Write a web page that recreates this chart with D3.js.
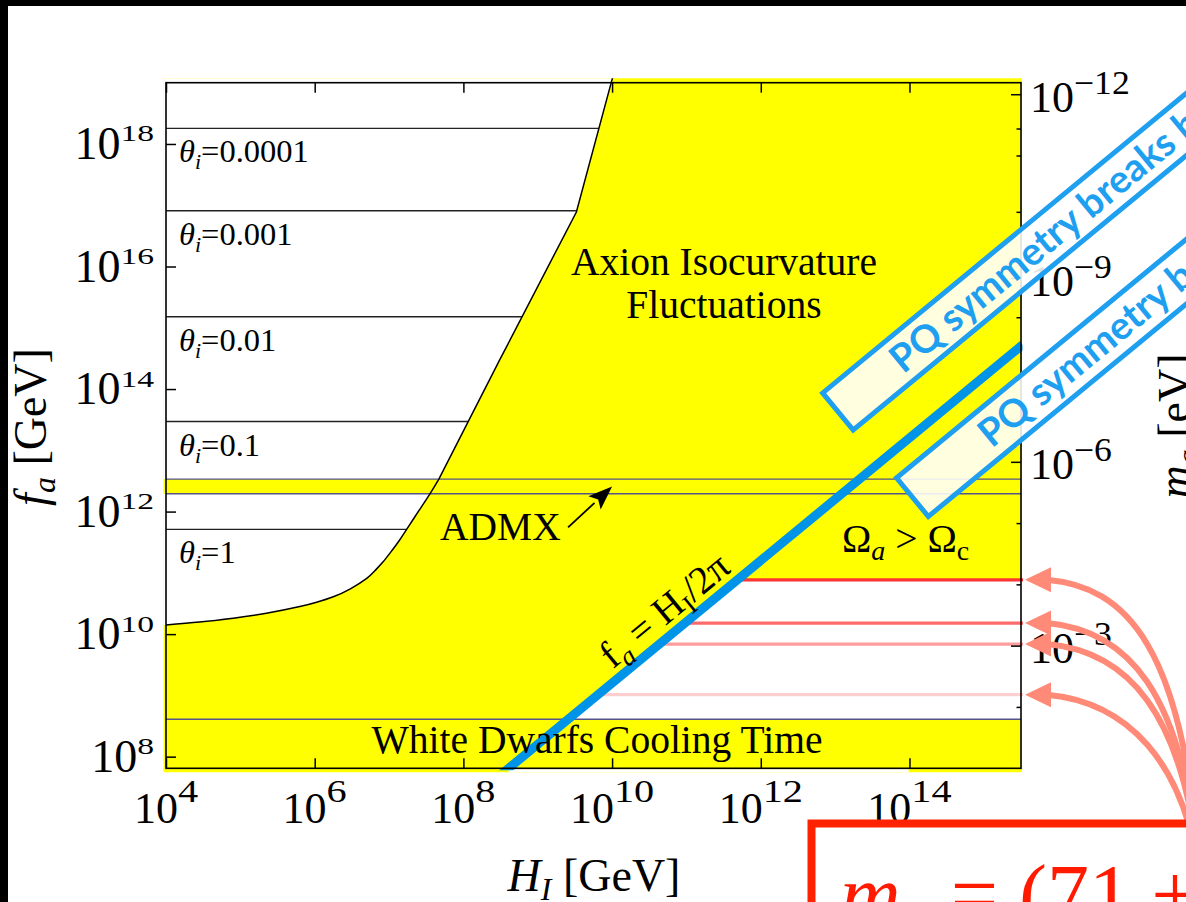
<!DOCTYPE html>
<html><head><meta charset="utf-8">
<script src="https://cdn.jsdelivr.net/npm/d3@7/dist/d3.min.js"></script>
<style>html,body{margin:0;padding:0;background:#fff;overflow:hidden}svg{display:block}text{font-family:"Liberation Serif","Times New Roman",serif}</style>
</head><body>
<svg id="chart" width="1186" height="902"></svg>
<script>
// ---------------- data ----------------
const xTickExps = [4, 6, 8, 10, 12, 14];          // H_I [GeV] ticks (powers of ten)
const yTickExps = [8, 10, 12, 14, 16, 18];        // f_a [GeV] ticks
const mMajorExps = [-12, -9, -6, -3];             // m_a [eV] labelled ticks
const mMinorExps = [-11.44, -11, -10.08, -8.36, -5, -4, -2];
// isocurvature boundary (log10 H_I, log10 f_a): curved lower part, then straight segments
const isoLowLogH = [4.0, 4.45, 4.905, 5.35, 5.80, 6.025, 6.25, 6.48, 6.70, 6.81, 6.92, 7.03, 7.145, 7.35, 7.55, 7.67];
const isoLowLogF = [10.15, 10.197, 10.26, 10.34, 10.45, 10.52, 10.61, 10.74, 10.91, 11.035, 11.18, 11.35, 11.54, 11.92, 12.29, 12.53];
const isoHighLogH = [8.49, 9.52, 9.99, 10.06];
const isoHighLogF = [14.48, 16.89, 19.01, 19.3];
const thetaValues = ["1", "0.1", "0.01", "0.001", "0.0001"];
const thetaLineLogF = [11.71, 13.47, 15.18, 16.91, 18.256];
const admxLogF = [12.29, 12.53];
const wdLogF = 8.61;
const omegaLogF = 10.887;
const redLineLogF = [10.887, 10.181, 9.838, 9.011];
const twoPi = 2 * Math.PI;                        // f_a = H_I / 2π
const maConst = Math.pow(10, 6.812);               // m_a[eV] = maConst / f_a[GeV]

// ---------------- styles ----------------
const YEL = "#ffff00", LINEBLUE = "#0094e8", BOXBLUE = "#1e9ff0", SALMON = "#ff8a78";
const BANDLINE = "#55558a";
const redColors = ["#ff3434", "#ff6a6a", "#ff9c9c", "#ffcfcf"];

// ---------------- scales ----------------
const X0 = 166, X1 = 1021, Y0 = 82.7, Y1 = 768.3;
const x = d3.scaleLog().domain([1e4, Math.pow(10, 15.5)]).range([X0, X1]);
const y = d3.scaleLog().domain([Math.pow(10, 7.81), 1e19]).range([Y1, Y0]);
const yR = d3.scaleLog().domain([maConst / Math.pow(10, 7.81), maConst / 1e19]).range([Y1, Y0]);
const P = (lh, lf) => [x(Math.pow(10, lh)), y(Math.pow(10, lf))];

const svg = d3.select("#chart");
const defs = svg.append("defs");
defs.append("clipPath").attr("id", "plotClip").append("rect")
  .attr("x", X0 - 2.5).attr("y", Y0 - 4.5).attr("width", X1 - X0 + 3.5).attr("height", Y1 - Y0 + 8.5);
defs.append("clipPath").attr("id", "blueClip").append("rect")
  .attr("x", X0).attr("y", Y0 - 4.5).attr("width", X1 - X0 + 1.5).attr("height", Y1 - Y0 + 6.5);

// isocurvature curve
const lowPts = isoLowLogH.map((h, i) => P(h, isoLowLogF[i]));
const highPts = isoHighLogH.map((h, i) => P(h, isoHighLogF[i]));
const isoD = d3.line().curve(d3.curveNatural)(lowPts) + highPts.map(p => "L" + p).join("");
const topPt = highPts[highPts.length - 1];
const whiteLeftD = isoD + `L${X0 - 20},${topPt[1]}L${X0 - 20},${lowPts[0][1]}Z`;
defs.append("clipPath").attr("id", "leftClip").append("path").attr("d", whiteLeftD);

const plot = svg.append("g").attr("clip-path", "url(#plotClip)");
plot.append("rect").attr("x", X0 - 3).attr("y", Y0 - 5).attr("width", X1 - X0 + 5).attr("height", Y1 - Y0 + 10).attr("fill", YEL);
plot.append("path").attr("d", whiteLeftD).attr("fill", "#fff");
plot.append("rect").attr("x", X0 - 3).attr("width", X1 - X0 + 5)
  .attr("y", y(Math.pow(10, admxLogF[1]))).attr("height", y(Math.pow(10, admxLogF[0])) - y(Math.pow(10, admxLogF[1])))
  .attr("fill", YEL);
const postPts = [
  P(omegaLogF + Math.log10(twoPi), omegaLogF), [X1 + 4, y(Math.pow(10, omegaLogF))],
  [X1 + 4, y(Math.pow(10, wdLogF))], P(wdLogF + Math.log10(twoPi), wdLogF)];
plot.append("path").attr("d", "M" + postPts.join("L") + "Z").attr("fill", "#fff");
const botLF = Math.log10(y.domain()[0]);
plot.append("rect").attr("x", x(Math.pow(10, botLF) * twoPi)).attr("y", Y1 + 0.8)
  .attr("width", 400).attr("height", 10).attr("fill", "#fff");

const lines = svg.append("g");
lines.append("g").attr("clip-path", "url(#leftClip)").selectAll("line").data(thetaLineLogF).join("line")
  .attr("x1", X0).attr("x2", X1).attr("y1", d => y(Math.pow(10, d))).attr("y2", d => y(Math.pow(10, d)))
  .attr("stroke", "#222").attr("stroke-width", 1.3);
lines.selectAll("line.band").data(admxLogF.concat([wdLogF])).join("line").attr("class", "band")
  .attr("x1", X0).attr("x2", X1).attr("y1", d => y(Math.pow(10, d))).attr("y2", d => y(Math.pow(10, d)))
  .attr("stroke", BANDLINE).attr("stroke-width", 1.4);
lines.selectAll("line.red").data(redLineLogF).join("line").attr("class", "red")
  .attr("x1", d => x(Math.pow(10, d) * twoPi)).attr("x2", X1 + 2)
  .attr("y1", d => y(Math.pow(10, d))).attr("y2", d => y(Math.pow(10, d)))
  .attr("stroke", (d, i) => redColors[i]).attr("stroke-width", 3.3);

svg.append("g").attr("clip-path", "url(#plotClip)").append("path").attr("d", isoD)
  .attr("fill", "none").attr("stroke", "#000").attr("stroke-width", 1.5);

const blueH = [Math.pow(10, botLF - 0.1) * twoPi, x.domain()[1] * 1.05];
svg.append("g").attr("clip-path", "url(#blueClip)").append("line")
  .attr("x1", x(blueH[0])).attr("y1", y(blueH[0] / twoPi)).attr("x2", x(blueH[1])).attr("y2", y(blueH[1] / twoPi))
  .attr("stroke", LINEBLUE).attr("stroke-width", 9);
const ang = Math.atan2(y(1e10) - y(1e9), x(1e10) - x(1e9)) * 180 / Math.PI;

// ---------------- text in plot ----------------
const T = svg.append("g").attr("fill", "#000");
thetaLineLogF.forEach((lf, i) => {
  const t = T.append("text").attr("x", X0 + 13).attr("y", y(Math.pow(10, lf)) + 34).attr("font-size", 32.5);
  t.append("tspan").attr("font-style", "italic").text("θ");
  t.append("tspan").attr("font-style", "italic").attr("font-size", 22).attr("dy", 7).text("i");
  t.append("tspan").attr("dy", -7).text("=" + thetaValues[i]);
});
T.append("text").attr("x", 724).attr("y", 275).attr("text-anchor", "middle").attr("font-size", 39.5).text("Axion Isocurvature");
T.append("text").attr("x", 724).attr("y", 318).attr("text-anchor", "middle").attr("font-size", 39.5).text("Fluctuations");
T.append("text").attr("x", 440).attr("y", 540).attr("font-size", 39.5).text("ADMX");
T.append("text").attr("x", 597).attr("y", 753).attr("text-anchor", "middle").attr("font-size", 39.5).text("White Dwarfs Cooling Time");
{
  const t = T.append("text").attr("x", 842).attr("y", 552).attr("font-size", 39.5);
  t.append("tspan").text("Ω");
  t.append("tspan").attr("font-style", "italic").attr("font-size", 28).attr("dy", 8).text("a");
  t.append("tspan").attr("dy", -8).text(" > Ω");
  t.append("tspan").attr("font-size", 28).attr("dy", 8).text("c");
}
{
  const tip = P(10, (admxLogF[0] + admxLogF[1]) / 2);
  const tail = [tip[0] - 44, tip[1] + 41];
  const a = Math.atan2(tip[1] - tail[1], tip[0] - tail[0]);
  const L = 24, Wd = 9;
  const bx = tip[0] - L * Math.cos(a), by = tip[1] - L * Math.sin(a);
  T.append("line").attr("x1", tail[0]).attr("y1", tail[1]).attr("x2", bx).attr("y2", by).attr("stroke", "#000").attr("stroke-width", 1.8);
  T.append("path").attr("d", `M${tip[0]},${tip[1]}L${bx + Wd * Math.sin(a)},${by - Wd * Math.cos(a)}L${bx + 5 * Math.cos(a)},${by + 5 * Math.sin(a)}L${bx - Wd * Math.sin(a)},${by + Wd * Math.cos(a)}Z`).attr("fill", "#000");
}
{
  const lh = 10.9, p = P(lh, lh - Math.log10(twoPi));
  const g = T.append("g").attr("transform", `translate(${p[0]},${p[1]}) rotate(${ang})`);
  const t = g.append("text").attr("x", 0).attr("y", -10).attr("text-anchor", "middle").attr("font-size", 39);
  t.append("tspan").text("f");
  t.append("tspan").attr("font-style", "italic").attr("font-size", 27).attr("dy", 8).text("a");
  t.append("tspan").attr("dy", -8).text(" = H");
  t.append("tspan").attr("font-size", 27).attr("dy", 8).text("I");
  t.append("tspan").attr("dy", -8).text("/2π");
}

// ---------------- axes ----------------
function styleAxis(g) {
  g.select(".domain").remove();
  g.selectAll(".tick line").attr("stroke", "#000").attr("stroke-width", 1.5);
  g.selectAll(".tick text").remove();
}
const ax = svg.append("g");
ax.append("g").attr("transform", `translate(${X0},0)`).call(d3.axisLeft(y).tickValues(yTickExps.map(e => Math.pow(10, e))).tickSize(-10)).call(styleAxis);
ax.append("g").attr("transform", `translate(${X1},0)`).call(d3.axisRight(yR).tickValues(mMajorExps.map(e => Math.pow(10, e))).tickSize(-10)).call(styleAxis);
ax.append("g").attr("transform", `translate(${X1},0)`).call(d3.axisRight(yR).tickValues(mMinorExps.map(e => Math.pow(10, e))).tickSize(-4.5)).call(styleAxis);
ax.append("g").attr("transform", `translate(0,${Y1})`).call(d3.axisBottom(x).tickValues(xTickExps.map(e => Math.pow(10, e))).tickSize(-10)).call(styleAxis);
ax.append("g").attr("transform", `translate(0,${Y0})`).call(d3.axisTop(x).tickValues(xTickExps.map(e => Math.pow(10, e))).tickSize(-10)).call(styleAxis);
ax.append("rect").attr("x", X0).attr("y", Y0).attr("width", X1 - X0).attr("height", Y1 - Y0)
  .attr("fill", "none").attr("stroke", "#000").attr("stroke-width", 1.6);

function powLabel(px, py, anchor, exp, o) {
  const g = ax.append("g");
  const b = g.append("text").attr("x", 0).attr("y", o.baseDy).attr("font-size", o.bs).text("10");
  const bw = b.node().getComputedTextLength();
  const e = g.append("text").attr("x", bw).attr("y", o.expDy).attr("font-size", o.es).text(exp);
  const ew = e.node().getComputedTextLength() * o.stretch;
  e.attr("textLength", ew).attr("lengthAdjust", "spacingAndGlyphs");
  const tot = bw + ew;
  const sx = anchor === "end" ? px - tot : anchor === "middle" ? px - tot / 2 : px;
  g.attr("transform", `translate(${sx},${py})`);
}
yTickExps.forEach(e => powLabel(154, y(Math.pow(10, e)), "end", String(e), {bs: 46, es: 24, stretch: 1.4, baseDy: 15, expDy: -2.5}));
xTickExps.forEach(e => powLabel(x(Math.pow(10, e)), Y1, "middle", String(e), {bs: 44, es: 31, stretch: 1.3, baseDy: 54.7, expDy: 33.4}));
mMajorExps.forEach(e => powLabel(1030, yR(Math.pow(10, e)), "start", "\u2212" + Math.abs(e), {bs: 44, es: 33, stretch: 1.08, baseDy: 17.5, expDy: -0.5}));

{
  const t = ax.append("text").attr("transform", "translate(46,427) rotate(-90)").attr("text-anchor", "middle").attr("font-size", 46);
  t.append("tspan").attr("font-style", "italic").text("f");
  t.append("tspan").attr("font-style", "italic").attr("font-size", 32).attr("dy", 9).text("a");
  t.append("tspan").attr("dy", -9).text(" [GeV]");
  const t2 = ax.append("text").attr("x", 594).attr("y", 891).attr("text-anchor", "middle").attr("font-size", 46);
  t2.append("tspan").attr("font-style", "italic").text("H");
  t2.append("tspan").attr("font-style", "italic").attr("font-size", 32).attr("dy", 9).text("I");
  t2.append("tspan").attr("dy", -9).text(" [GeV]");
  const t3 = ax.append("text").attr("transform", "translate(1190,426) rotate(-90)").attr("text-anchor", "middle").attr("font-size", 46);
  t3.append("tspan").attr("font-style", "italic").text("m");
  t3.append("tspan").attr("font-style", "italic").attr("font-size", 32).attr("dy", 9).text("a");
  t3.append("tspan").attr("dy", -9).text(" [eV]");
}

// ---------------- PQ boxes ----------------
function pqBox(lh, lf, h, txt, tx, ty, fs) {
  const p = P(lh, lf);
  const g = svg.append("g").attr("transform", `translate(${p[0]},${p[1]}) rotate(${ang})`);
  g.append("rect").attr("width", 720).attr("height", h).attr("fill", "rgba(255,255,255,0.88)")
    .attr("stroke", BOXBLUE).attr("stroke-width", 5);
  g.append("text").attr("x", tx).attr("y", ty).attr("font-size", fs).attr("fill", BOXBLUE)
    .style("font-family", "Lato, 'Open Sans', sans-serif").attr("font-weight", 700).text(txt);
}
pqBox(12.832, 13.936, 48, "PQ symmetry breaks before inflation", 74, 37, 38.5);
pqBox(13.826, 12.549, 50, "PQ symmetry breaks after inflation", 92, 38, 38.5);

// ---------------- red arrows ----------------
const arr = svg.append("g");
redLineLogF.forEach(lf => {
  const ty = y(Math.pow(10, lf)), tx = X1 + 4;
  arr.append("path").attr("d", `M${tx + 22},${ty}C${tx + 100},${ty + 7} ${1185},${ty + 64} ${1200},${880}`)
    .attr("fill", "none").attr("stroke", SALMON).attr("stroke-width", 6);
  arr.append("path").attr("d", `M${tx},${ty}L${tx + 26},${ty - 12.5}L${tx + 26},${ty + 12.5}Z`).attr("fill", SALMON);
});

// ---------------- result box ----------------
svg.append("rect").attr("x", 811.5).attr("y", 823.5).attr("width", 520).attr("height", 200)
  .attr("fill", "#fff").attr("stroke", "#ff2200").attr("stroke-width", 8);
{
  const t = svg.append("text").attr("x", 840).attr("y", 923).attr("font-size", 84).attr("fill", "#ff1a00");
  t.append("tspan").attr("font-style", "italic").text("m");
  t.append("tspan").attr("font-style", "italic").attr("font-size", 58).attr("dy", 16).text("a");
  t.append("tspan").attr("dy", -16).text(" = (71 ± 2) μeV");
}

// ---------------- slide frame ----------------
svg.append("rect").attr("x", 0).attr("y", 0).attr("width", 1186).attr("height", 6).attr("fill", "#000");
svg.append("rect").attr("x", 0).attr("y", 0).attr("width", 8).attr("height", 902).attr("fill", "#000");
</script>
</body></html>
